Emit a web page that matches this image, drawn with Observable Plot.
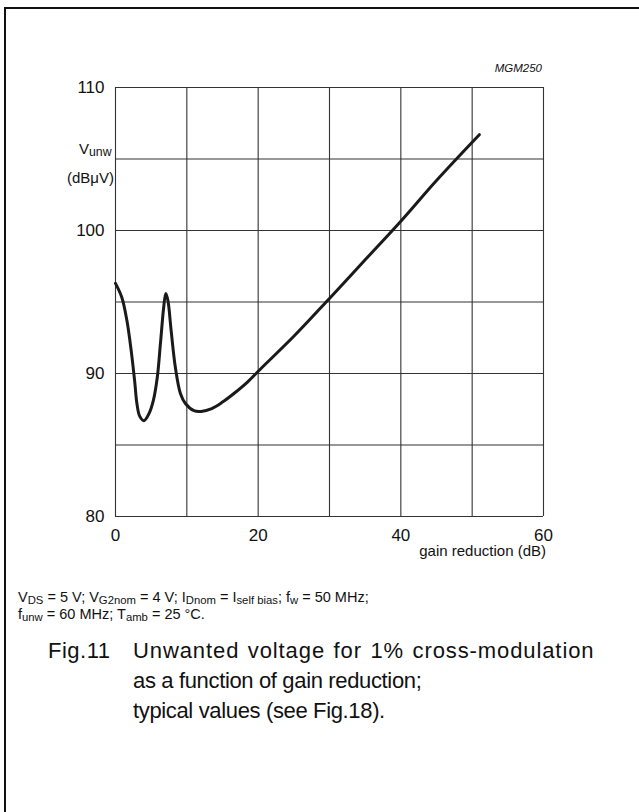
<!DOCTYPE html>
<html>
<head>
<meta charset="utf-8">
<script src="https://cdn.jsdelivr.net/npm/d3@7"></script>
<script src="https://cdn.jsdelivr.net/npm/@observablehq/plot@0.6"></script>
<style>
  html, body { margin: 0; padding: 0; background: #fff; overflow: hidden; }
  #wrap { position: relative; width: 639px; height: 812px; overflow: hidden; font-family: "Liberation Sans", Arial, sans-serif; color: #111; }
  #frame { position: absolute; left: 4px; top: 7px; width: 700px; height: 900px; border-left: 2px solid #111; border-top: 2px solid #111; }
  #chart { position: absolute; left: 0; top: 0; }
  .abs { position: absolute; white-space: nowrap; }
  sub { font-size: 78%; vertical-align: -0.2em; line-height: 0; }
</style>
</head>
<body>
<div id="wrap">
  <div id="frame"></div>
  <div id="chart"></div>
  <div class="abs" style="right:97px; top:62px; font-size:11.5px; font-style:italic;">MGM250</div>
  <div class="abs" style="left:79px; top:140px; font-size:15px;">V<sub style="font-size:82%">unw</sub></div>
  <div class="abs" style="left:67px; top:169px; font-size:15px;">(dBμV)</div>
  <div class="abs" style="right:93px; top:542px; font-size:15px;">gain reduction (dB)</div>
  <div class="abs" style="left:18px; top:589px; font-size:14.5px; line-height:17px;">
    V<sub>DS</sub> = 5 V; V<sub>G2nom</sub> = 4 V; I<sub>Dnom</sub> = I<sub>self bias</sub>; f<sub>w</sub> = 50 MHz;<br>
    f<sub>unw</sub> = 60 MHz; T<sub>amb</sub> = 25 °C.
  </div>
  <div class="abs" style="left:48px; top:636px; font-size:22px; line-height:30px; letter-spacing:0.5px;">Fig.11</div>
  <div class="abs" style="left:133px; top:636px; font-size:22px; line-height:30px;">
    <span style="letter-spacing:0.9px; word-spacing:1.5px">Unwanted voltage for 1% cross-modulation</span><br>
    <span style="letter-spacing:-0.35px">as a function of gain reduction;</span><br>
    <span style="letter-spacing:-0.35px">typical values (see Fig.18).</span>
  </div>
</div>
<script>
// Data
const gainReduction = [0, 0.9, 1.6, 2.2, 2.7, 3.0, 3.4, 4.0, 4.7, 5.3, 5.85, 6.3, 6.75, 7.05, 7.35, 7.8, 8.4, 9.1, 9.8, 11.0, 12.0, 13.5, 15, 16.6, 18.5, 20.3, 25, 30, 35, 40, 45, 51];
const vUnw = [96.3, 95.3, 93.7, 91.6, 89.4, 87.9, 87.0, 86.7, 87.2, 88.1, 89.7, 92.1, 94.6, 95.6, 95.1, 93.0, 90.4, 88.6, 87.9, 87.4, 87.35, 87.55, 88.0, 88.6, 89.4, 90.3, 92.6, 95.25, 97.95, 100.65, 103.5, 106.7];
const xGrid = [0, 10, 20, 30, 40, 50, 60];
const yGrid = [80, 85, 90, 95, 100, 105, 110];
const xTicks = [0, 20, 40, 60];
const yTicks = [80, 90, 100, 110];

const points = gainReduction.map((g, i) => ({g, v: vUnw[i]}));

const chart = Plot.plot({
  width: 639,
  height: 570,
  marginTop: 87,
  marginBottom: 54,
  marginLeft: 115,
  marginRight: 96,
  style: {fontFamily: "'Liberation Sans', Arial, sans-serif", fontSize: "17px", color: "#111", background: "transparent"},
  x: {domain: [0, 60]},
  y: {domain: [80, 110]},
  marks: [
    Plot.ruleX(xGrid, {stroke: "#333", strokeWidth: 1.1}),
    Plot.ruleY(yGrid, {stroke: "#333", strokeWidth: 1.1}),
    Plot.line(points, {x: "g", y: "v", curve: "catmull-rom", stroke: "#1a1a1a", strokeWidth: 3}),
    Plot.axisX({ticks: xTicks, tickSize: 0, tickPadding: 12, label: null, fontSize: 17}),
    Plot.axisY({ticks: yTicks, tickSize: 0, tickPadding: 11, label: null, fontSize: 17})
  ]
});
document.getElementById("chart").appendChild(chart);
</script>
</body>
</html>
